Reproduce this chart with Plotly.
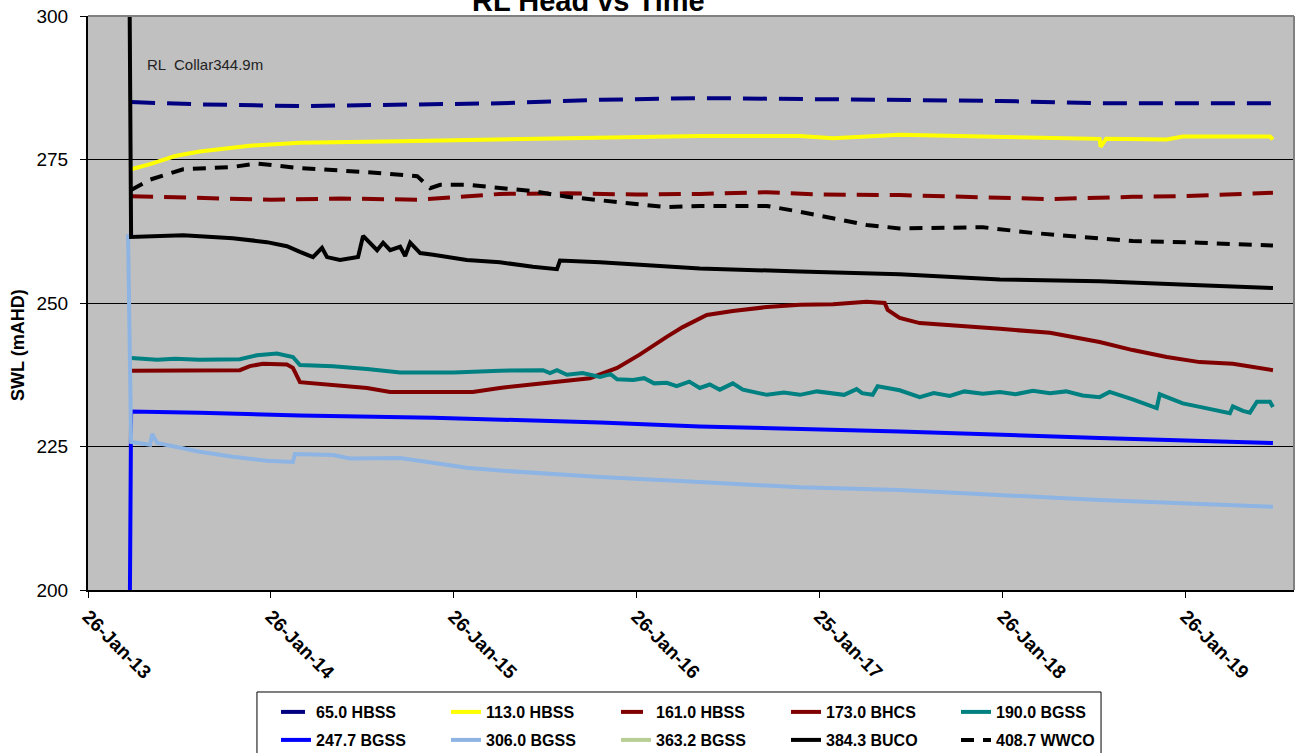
import plotly.graph_objects as go

# ---------------- data ----------------
tick_dates = ["2013-01-26", "2014-01-26", "2015-01-26", "2016-01-26",
              "2017-01-25", "2018-01-26", "2019-01-26"]
tick_labels = ["26-Jan-13", "26-Jan-14", "26-Jan-15", "26-Jan-16",
               "25-Jan-17", "26-Jan-18", "26-Jan-19"]

names = ["65.0 HBSS", "113.0 HBSS", "161.0 HBSS", "173.0 BHCS", "190.0 BGSS",
         "247.7 BGSS", "306.0 BGSS", "363.2 BGSS", "384.3 BUCO", "408.7 WWCO"]

hbss65_x = ["2013-04-22", "2013-09-06", "2014-03-25", "2014-10-11", "2015-04-28",
            "2015-11-14", "2016-05-31", "2016-10-12", "2017-07-04", "2018-01-20",
            "2018-08-07", "2019-07-19"]
hbss65_y = [285.0, 284.6, 284.3, 284.5, 284.8, 285.4, 285.7, 285.6, 285.4, 285.2,
            284.8, 284.8]

hbss113_x = ["2013-04-22", "2013-05-30", "2013-07-19", "2013-09-06", "2013-12-15",
             "2014-03-25", "2014-10-11", "2015-04-28", "2015-11-14", "2016-05-31",
             "2016-12-17", "2017-02-21", "2017-07-04", "2018-01-20", "2018-08-07",
             "2018-08-09", "2018-08-20", "2018-12-19", "2019-01-20", "2019-07-13",
             "2019-07-19"]
hbss113_y = [273.3, 274.2, 275.6, 276.4, 277.4, 277.9, 278.2, 278.5, 278.9, 279.1,
             279.1, 278.7, 279.3, 278.9, 278.6, 277.2, 278.6, 278.5, 279.0, 279.0,
             278.5]

hbss161_x = ["2013-04-22", "2013-09-06", "2014-01-26", "2014-06-13", "2014-11-20",
             "2015-04-28", "2015-09-09", "2016-01-26", "2016-05-31", "2016-10-12",
             "2017-01-26", "2017-07-04", "2018-01-20", "2018-04-30", "2018-10-12",
             "2019-01-20", "2019-07-19"]
hbss161_y = [268.6, 268.3, 268.0, 268.2, 268.0, 269.0, 269.1, 268.9, 269.0, 269.3,
             268.9, 268.8, 268.4, 268.1, 268.5, 268.6, 269.2]

bhcs173_x = ["2013-04-22", "2013-11-25", "2013-12-15", "2014-01-10", "2014-02-27",
             "2014-03-11", "2014-03-25", "2014-05-30", "2014-08-06", "2014-09-21",
             "2015-03-05", "2015-04-28", "2015-08-06", "2015-10-25", "2015-12-18",
             "2016-02-01", "2016-03-26", "2016-04-27", "2016-06-14", "2016-08-05",
             "2016-10-12", "2016-12-17", "2017-02-21", "2017-04-29", "2017-06-04",
             "2017-06-10", "2017-07-04", "2017-08-13", "2018-01-20", "2018-04-30",
             "2018-08-07", "2018-10-12", "2018-12-19", "2019-02-23", "2019-04-30",
             "2019-07-19"]
bhcs173_y = [238.2, 238.3, 239.0, 239.4, 239.3, 238.7, 236.2, 235.7, 235.2, 234.5,
             234.5, 235.2, 236.1, 236.9, 238.7, 241.0, 244.1, 245.8, 247.9, 248.6,
             249.3, 249.7, 249.8, 250.2, 250.0, 248.8, 247.4, 246.5, 245.5, 244.8,
             243.2, 241.8, 240.6, 239.7, 239.4, 238.3]

bgss190_x = ["2013-04-22", "2013-06-13", "2013-07-19", "2013-09-06", "2013-11-25",
             "2013-12-29", "2014-02-07", "2014-03-11", "2014-03-25", "2014-05-30",
             "2014-08-06", "2014-10-11", "2015-01-26", "2015-04-28", "2015-07-23",
             "2015-08-06", "2015-08-20", "2015-09-09", "2015-10-10", "2015-11-14",
             "2015-12-05", "2015-12-18", "2016-01-19", "2016-02-10", "2016-03-01",
             "2016-03-26", "2016-04-15", "2016-05-10", "2016-05-31", "2016-06-20",
             "2016-07-10", "2016-08-05", "2016-08-25", "2016-10-12", "2016-11-15",
             "2016-12-17", "2017-01-20", "2017-02-21", "2017-03-15", "2017-04-09",
             "2017-04-20", "2017-05-11", "2017-05-21", "2017-07-04", "2017-08-13",
             "2017-09-10", "2017-10-12", "2017-11-10", "2017-12-17", "2018-01-20",
             "2018-02-20", "2018-03-27", "2018-04-30", "2018-06-01", "2018-07-04",
             "2018-08-07", "2018-08-27", "2018-10-12", "2018-11-29", "2018-12-05",
             "2019-01-20", "2019-02-23", "2019-04-24", "2019-04-30", "2019-05-20",
             "2019-06-03", "2019-06-17", "2019-07-13", "2019-07-19"]
bgss190_y = [240.4, 240.1, 240.3, 240.1, 240.2, 240.9, 241.2, 240.6, 239.2, 239.0,
             238.5, 237.9, 237.9, 238.2, 238.3, 237.8, 238.3, 237.5, 237.8, 237.1,
             237.6, 236.7, 236.6, 236.9, 236.0, 236.1, 235.5, 236.3, 235.2, 235.8,
             234.9, 236.0, 234.9, 234.0, 234.4, 234.0, 234.6, 234.3, 234.0, 235.0,
             234.3, 234.0, 235.5, 234.8, 233.6, 234.3, 233.8, 234.6, 234.2, 234.5,
             234.1, 234.7, 234.3, 234.6, 233.9, 233.6, 234.5, 233.2, 231.7, 234.1,
             232.5, 231.9, 230.8, 232.0, 231.2, 230.9, 232.8, 232.8, 231.9]

bgss247_x = ["2013-04-16", "2013-04-22", "2013-09-06", "2014-03-25", "2014-12-16",
             "2015-04-28", "2015-11-14", "2016-05-31", "2017-07-04", "2018-08-07",
             "2019-07-19"]
bgss247_y = [150.0, 231.1, 230.9, 230.4, 230.0, 229.7, 229.2, 228.5, 227.6, 226.5,
             225.6]

bgss306_x = ["2013-04-16", "2013-04-22", "2013-05-30", "2013-06-03", "2013-06-13",
             "2013-09-06", "2013-11-11", "2014-01-18", "2014-03-11", "2014-03-15",
             "2014-05-30", "2014-07-03", "2014-10-11", "2014-12-16", "2015-02-21",
             "2015-04-28", "2015-11-14", "2016-05-31", "2016-12-17", "2017-07-04",
             "2018-01-20", "2018-08-07", "2019-07-19"]
bgss306_y = [262.0, 225.8, 225.3, 227.2, 225.6, 224.1, 223.2, 222.5, 222.3, 223.7,
             223.5, 222.9, 223.0, 222.1, 221.3, 220.8, 219.7, 218.8, 217.9, 217.4,
             216.6, 215.7, 214.5]

# no readings visible for this bore on the chart (legend entry only)
bgss363_x = [None]
bgss363_y = [None]

buco384_x = ["2013-04-16", "2013-04-22", "2013-08-04", "2013-11-11", "2014-01-18",
             "2014-02-27", "2014-03-25", "2014-04-20", "2014-05-08", "2014-05-18",
             "2014-06-13", "2014-07-19", "2014-07-29", "2014-08-12", "2014-08-26",
             "2014-09-07", "2014-09-21", "2014-10-11", "2014-10-21", "2014-10-31",
             "2014-11-20", "2014-12-16", "2015-02-21", "2015-04-28", "2015-07-03",
             "2015-08-20", "2015-08-26", "2015-11-14", "2016-05-31", "2016-12-17",
             "2017-07-04", "2018-01-20", "2018-08-07", "2019-02-23", "2019-07-19"]
buco384_y = [344.9, 261.5, 261.8, 261.3, 260.6, 259.9, 258.9, 258.0, 259.6, 258.0,
             257.5, 258.0, 261.7, 260.5, 259.2, 260.5, 259.2, 259.8, 258.2, 260.5,
             258.7, 258.4, 257.5, 257.1, 256.3, 255.9, 257.4, 257.1, 256.0, 255.5,
             255.0, 254.1, 253.8, 253.1, 252.6]

wwco408_x = ["2013-04-22", "2013-05-30", "2013-08-04", "2013-11-11", "2013-12-29",
             "2014-03-25", "2014-08-06", "2014-11-14", "2014-12-10", "2014-12-30",
             "2015-02-21", "2015-04-28", "2015-07-03", "2015-09-09", "2015-11-14",
             "2016-03-26", "2016-05-31", "2016-10-12", "2016-12-17", "2017-02-21",
             "2017-04-29", "2017-07-04", "2017-12-17", "2018-03-27", "2018-07-04",
             "2018-10-12", "2019-02-23", "2019-07-07", "2019-07-19"]
wwco408_y = [269.7, 271.5, 273.3, 273.7, 274.3, 273.5, 272.8, 272.1, 270.0, 270.6,
             270.6, 270.0, 269.5, 268.5, 267.9, 266.7, 266.9, 266.9, 265.9, 264.8,
             263.6, 263.0, 263.2, 262.2, 261.5, 260.8, 260.5, 260.0, 260.0]

series_x = [hbss65_x, hbss113_x, hbss161_x, bhcs173_x, bgss190_x,
            bgss247_x, bgss306_x, bgss363_x, buco384_x, wwco408_x]
series_y = [hbss65_y, hbss113_y, hbss161_y, bhcs173_y, bgss190_y,
            bgss247_y, bgss306_y, bgss363_y, buco384_y, wwco408_y]

colors = ["#000080", "#FFFF00", "#800000", "#800000", "#008080",
          "#0000FF", "#8DB4E3", "#B8CE94", "#000000", "#000000"]
dashes = ["24px,12px", "solid", "22px,11px", "solid", "solid",
          "solid", "solid", "solid", "solid", "13px,9px"]
legend_rows = ["legend"] * 5 + ["legend2"] * 5

FONT = "Arial, 'Liberation Sans', sans-serif"

fig = go.Figure()
for nm, xs, ys, c, d, lg in zip(names, series_x, series_y, colors, dashes, legend_rows):
    fig.add_trace(go.Scatter(x=xs, y=ys, name=nm, mode="lines", legend=lg,
                             line=dict(color=c, width=4, dash=d)))

legend_common = dict(orientation="h", xanchor="left", yanchor="middle",
                     xref="container", yref="container",
                     borderwidth=0, bgcolor="rgba(255,255,255,0)",
                     font=dict(family=FONT, size=16, color="black", weight="bold"),
                     entrywidth=125, entrywidthmode="pixels", traceorder="normal")

fig.update_layout(
    width=1296, height=753, autosize=False,
    margin=dict(l=88, r=2, t=16, b=163, pad=0, autoexpand=False),
    paper_bgcolor="white", plot_bgcolor="#C0C0C0",
    font=dict(family=FONT, color="black"),
    showlegend=True,
    legend=dict(x=276 / 1296, y=1 - 712 / 753, **legend_common),
    legend2=dict(x=276 / 1296, y=1 - 740 / 753, **legend_common),
    annotations=[
        dict(text="RL Head vs Time", xref="paper", yref="paper", x=0.415, y=1,
             xanchor="center", yanchor="bottom", yshift=-3, showarrow=False,
             font=dict(family=FONT, size=29, color="black", weight="bold")),
        dict(text="RL  Collar344.9m", xref="paper", yref="y", x=0.047, y=291.5,
             xanchor="left", yanchor="middle", showarrow=False,
             font=dict(family=FONT, size=15, color="#222222")),
        dict(text="SWL (mAHD)", xref="paper", yref="paper", x=-0.058, y=0.427,
             xanchor="center", yanchor="middle", textangle=-90, showarrow=False,
             font=dict(family=FONT, size=18, color="black", weight="bold")),
    ],
    shapes=[
        dict(type="line", xref="paper", yref="paper", x0=0, x1=1, y0=1, y1=1,
             line=dict(color="#808080", width=2), layer="above"),
        dict(type="line", xref="paper", yref="paper", x0=1, x1=1, y0=0, y1=1,
             line=dict(color="#808080", width=2), layer="above"),
        dict(type="rect", xref="paper", yref="paper", x0=0.1401, x1=0.840,
             y0=-0.30, y1=-0.1777, line=dict(color="black", width=1), layer="above"),
    ],
)

fig.update_xaxes(type="date", range=["2013-01-26", "2019-08-30"],
                 tickmode="array", tickvals=tick_dates, ticktext=tick_labels,
                 tickangle=45, ticks="outside", ticklen=6, tickcolor="black",
                 showline=True, linecolor="black", linewidth=2, showgrid=False,
                 zeroline=False,
                 tickfont=dict(family=FONT, size=19, color="black", weight="bold"))
fig.update_yaxes(range=[200, 300], tickvals=[200, 225, 250, 275, 300],
                 ticks="outside", ticklen=6, tickcolor="black",
                 showline=True, linecolor="black", linewidth=2,
                 showgrid=True, gridcolor="black", gridwidth=1, zeroline=False,
                 ticklabelstandoff=8,
                 tickfont=dict(family=FONT, size=19, color="black"))

fig.write_html("out.html", config={"displayModeBar": False},
               post_script="document.body.style.margin='0';")
